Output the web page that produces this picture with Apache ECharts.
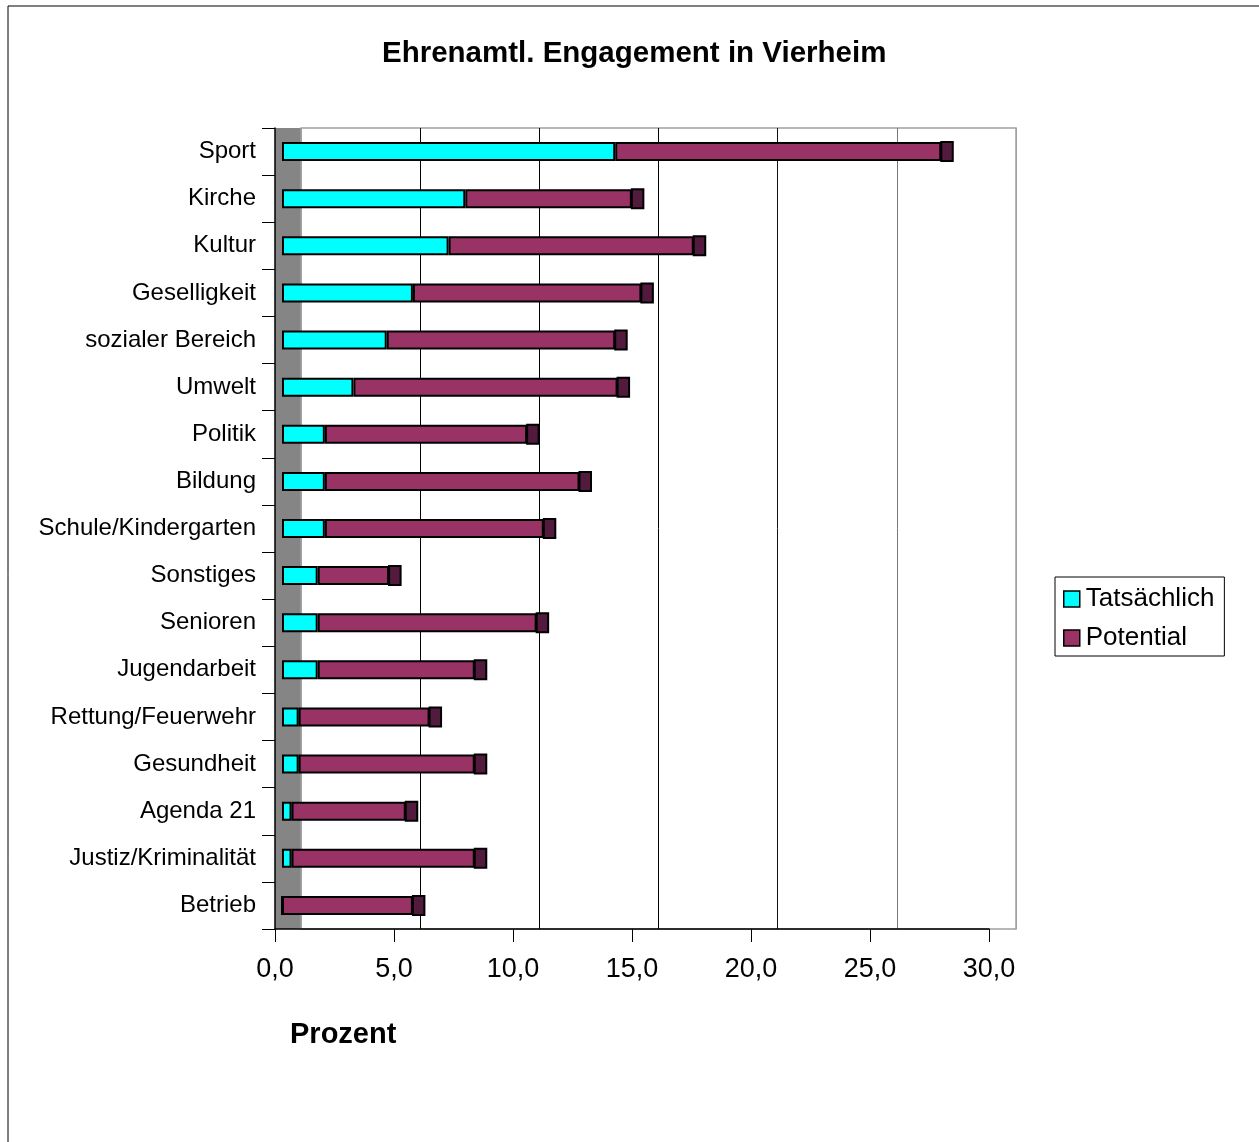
<!DOCTYPE html>
<html lang="de">
<head>
<meta charset="utf-8">
<title>Ehrenamtl. Engagement in Vierheim</title>
<script src="https://cdn.jsdelivr.net/npm/echarts@6/dist/echarts.min.js"></script>
<style>
  html, body { margin: 0; padding: 0; background: #fff; }
  #chart { width: 1259px; height: 1142px; }
</style>
</head>
<body>
<div id="chart"></div>
<script>
// Bereiche des ehrenamtlichen Engagements (von oben nach unten)
const categories = [
  'Sport', 'Kirche', 'Kultur', 'Geselligkeit', 'sozialer Bereich', 'Umwelt',
  'Politik', 'Bildung', 'Schule/Kindergarten', 'Sonstiges', 'Senioren',
  'Jugendarbeit', 'Rettung/Feuerwehr', 'Gesundheit', 'Agenda 21',
  'Justiz/Kriminalität', 'Betrieb'
];

// Anteile in Prozent
const tatsaechlich = [14.0, 7.7, 7.0, 5.5, 4.4, 3.0, 1.8, 1.8, 1.8, 1.5, 1.5, 1.5, 0.7, 0.7, 0.4, 0.4, 0.0];
const potential    = [13.7, 7.0, 10.3, 9.6, 9.6, 11.1, 8.5, 10.7, 9.2, 3.0, 9.2, 6.6, 5.5, 7.4, 4.8, 7.7, 5.5];

// Prozentachse
const axisMin = 0;
const axisMax = 30;
const axisStep = 5;
const axisLabels = ['0,0', '5,0', '10,0', '15,0', '20,0', '25,0', '30,0'];

const FONT = '"Liberation Sans", Arial, sans-serif';
const BAR_W = 19;

// Gesamtlänge je Balken (für die dunkle Stirnseite der 3D-Balken)
const totals = categories.map((c, i) => [tatsaechlich[i] + potential[i], i]);

const chart = echarts.init(document.getElementById('chart'), null, { renderer: 'canvas' });

const hiddenCat = (grid) => ({
  type: 'category', gridIndex: grid, data: categories, inverse: true, show: false
});
const hiddenVal = (grid) => ({
  type: 'value', gridIndex: grid, min: axisMin, max: axisMax, interval: axisStep, show: false
});

const option = {
  backgroundColor: '#fff',
  animation: false,
  title: [
    {
      text: 'Ehrenamtl. Engagement in Vierheim',
      left: 382, top: 39, padding: 0,
      textStyle: { fontFamily: FONT, fontSize: 29.5, fontWeight: 'bold', color: '#000' }
    },
    {
      text: 'Prozent',
      left: 290, top: 1020, padding: 0,
      textStyle: { fontFamily: FONT, fontSize: 29, fontWeight: 'bold', color: '#000' }
    }
  ],
  legend: {
    orient: 'vertical',
    left: 1055, top: 577,
    padding: [9, 10, 5, 8],
    itemGap: 13,
    itemWidth: 16, itemHeight: 16,
    icon: 'rect',
    borderColor: '#000', borderWidth: 1,
    backgroundColor: '#fff',
    data: ['Tatsächlich', 'Potential'],
    itemStyle: { borderColor: '#000', borderWidth: 1.5 },
    textStyle: { fontFamily: FONT, fontSize: 26, color: '#000', padding: [0, 0, 0, 1] }
  },
  graphic: [
    {
      type: 'rect', silent: true, z: -10,
      shape: { x: 8, y: 6, width: 1400, height: 1400 },
      style: { fill: 'none', stroke: '#000', lineWidth: 1 }
    }
  ],
  grid: [
    // Seitenwand (grau)
    { left: 275, right: 958, top: 128, bottom: 213, show: true,
      backgroundColor: '#858585', borderWidth: 0 },
    // Rückwand mit Gitternetz
    { left: 301, right: 243, top: 128, bottom: 213, show: true,
      backgroundColor: 'transparent', borderColor: '#a0a0a0', borderWidth: 1.5 },
    // vordere Achsen
    { left: 275, right: 270, top: 128, bottom: 213 },
    // Balken
    { left: 282, right: 263, top: 128, bottom: 213 }
  ],
  xAxis: [
    hiddenVal(0),
    {
      type: 'value', gridIndex: 1, min: axisMin, max: axisMax, interval: axisStep,
      axisLine: { show: false }, axisTick: { show: false }, axisLabel: { show: false },
      splitLine: {
        show: true,
        lineStyle: { width: 1, color: ['#a0a0a0', '#000', '#000', '#000', '#111', '#777', '#a0a0a0'] }
      }
    },
    {
      type: 'value', gridIndex: 2, min: axisMin, max: axisMax, interval: axisStep,
      axisLine: { show: true, lineStyle: { color: '#000', width: 1.5 } },
      axisTick: { show: true, inside: false, length: 13, lineStyle: { color: '#000', width: 1 } },
      splitLine: { show: false },
      axisLabel: {
        margin: 27,
        fontFamily: FONT, fontSize: 27, color: '#000',
        formatter: (v) => axisLabels[Math.round((v - axisMin) / axisStep)]
      }
    },
    hiddenVal(3)
  ],
  yAxis: [
    hiddenCat(0),
    hiddenCat(1),
    {
      type: 'category', gridIndex: 2, data: categories, inverse: true,
      axisLine: { show: true, lineStyle: { color: '#000', width: 1.5 } },
      axisTick: { show: true, inside: false, length: 13, interval: 0, lineStyle: { color: '#000', width: 1 } },
      axisLabel: {
        margin: 19, interval: 0, fontFamily: FONT, fontSize: 24, color: '#000',
        padding: [4, 0, 0, 0]
      }
    },
    hiddenCat(3)
  ],
  series: [
    {
      name: 'Tatsächlich', type: 'bar', stack: 'gesamt',
      xAxisIndex: 3, yAxisIndex: 3,
      barWidth: BAR_W,
      itemStyle: { color: '#00FFFF', borderColor: '#000', borderWidth: 2 },
      data: tatsaechlich
    },
    {
      name: 'Potential', type: 'bar', stack: 'gesamt',
      xAxisIndex: 3, yAxisIndex: 3,
      barWidth: BAR_W,
      itemStyle: { color: '#993366', borderColor: '#000', borderWidth: 2 },
      data: potential
    },
    {
      // dunkle Stirnseite am Ende jedes Balkens
      name: 'Stirnseite', type: 'custom',
      xAxisIndex: 3, yAxisIndex: 3,
      encode: { x: 0, y: 1 },
      z: 3,
      data: totals,
      renderItem: (params, api) => {
        const p = api.coord([api.value(0), api.value(1)]);
        return {
          type: 'rect',
          shape: { x: p[0], y: p[1] - BAR_W / 2, width: 11.5, height: BAR_W },
          style: { fill: '#521a3d', stroke: '#000', lineWidth: 2 }
        };
      }
    }
  ]
};

chart.setOption(option);
</script>
</body>
</html>
